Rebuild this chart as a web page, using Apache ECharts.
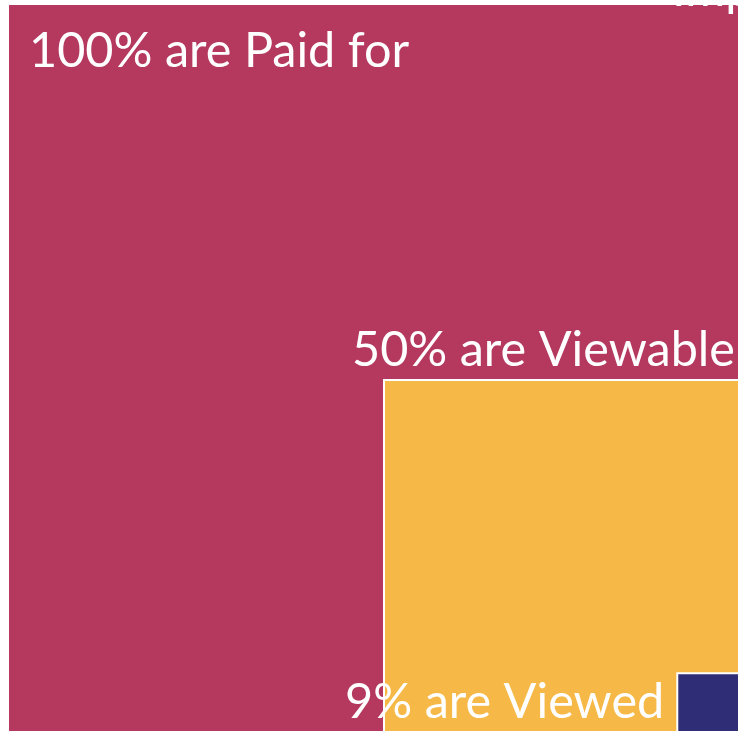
<!DOCTYPE html>
<html><head><meta charset="utf-8">
<script src="https://cdn.jsdelivr.net/npm/echarts@6/dist/echarts.min.js"></script>
<style>html,body{margin:0;padding:0;background:#fff;overflow:hidden}#c{width:738px;height:731px}</style>
</head><body><div id="c"></div>
<script>
// Square side lengths (percent of the full square)
const categories = ['Paid for', 'Viewable', 'Viewed'];
const sizes = [100, 50, 11];
const labels = ['100% are Paid for', '50% are Viewable', '9% are Viewed'];
const colors = ['#B5395F', '#F6B847', '#2E2D76'];

const chart = echarts.init(document.getElementById('c'), null, {renderer: 'canvas'});
const FONT = 'Lato';
const FS = 48.6;
const ASC = 38.7; // top-of-box to baseline distance
function renderItem(params, api) {
  const i = params.dataIndex;
  const s = api.value(1);
  const tl = api.coord([100 - s, s]);
  const br = api.coord([100, 0]);
  const w = br[0] - tl[0], h = br[1] - tl[1];
  const children = [{
    type: 'rect',
    shape: {x: tl[0], y: tl[1], width: w, height: h},
    style: {fill: colors[i], stroke: '#fff', lineWidth: 2}
  }];
  let tx, by, align;
  if (i === 0) { tx = tl[0] + 21; by = tl[1] + 62; align = 'left'; }
  else if (i === 1) { tx = br[0] - 25; by = tl[1] - 15; align = 'right'; }
  else { tx = tl[0] - 13; by = br[1] - 39; align = 'right'; }
  children.push({
    type: 'text',
    style: {text: labels[i], x: tx, y: by - ASC, align: align, verticalAlign: 'top',
      fill: '#fff', font: FS + 'px ' + FONT}
  });
  if (i === 0) {
    children.push({
      type: 'text',
      style: {text: 'Impressions', x: 672, y: tl[1] + 1 - ASC, align: 'left', verticalAlign: 'top',
        fill: '#fff', font: FS + 'px ' + FONT}
    });
  }
  return {type: 'group', children: children};
}
chart.setOption({
  animation: false,
  grid: {left: 8, top: 4, width: 752, height: 752, outerBoundsMode: 'none', containLabel: false},
  xAxis: {type: 'value', min: 0, max: 100, show: false},
  yAxis: {type: 'value', min: 0, max: 100, show: false},
  series: [{
    type: 'custom',
    renderItem: renderItem,
    clip: false,
    data: categories.map((c, i) => [c, sizes[i]]),
    encode: {x: 1, y: 1}
  }]
});
</script></body></html>
